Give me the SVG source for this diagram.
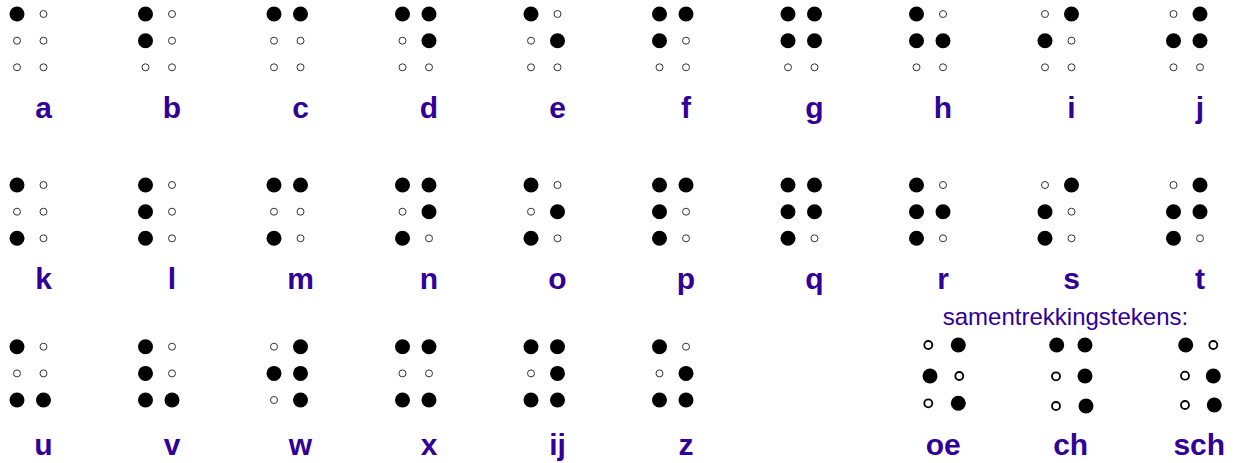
<svg xmlns="http://www.w3.org/2000/svg" xmlns:xlink="http://www.w3.org/1999/xlink" width="1235" height="463" viewBox="0 0 1235 463">
<style>
.lbl{font-family:"Liberation Sans",Arial,sans-serif;font-weight:bold;font-size:30px;fill:#300099;text-anchor:middle}
.ttl{font-family:"Liberation Sans",Arial,sans-serif;font-size:24px;fill:#300099;text-anchor:middle}
</style>
<defs>
<circle id="B" r="7.5" fill="#000"/>
<circle id="W" r="3.5" fill="#fff" stroke="#333" stroke-width="1"/>
<circle id="W2" r="4" fill="#fff" stroke="#000" stroke-width="1.8"/>
</defs>
<rect width="1235" height="463" fill="#fff"/>
<g id="row1">
<g id="cell-a" transform="translate(17,14)"><use href="#B" x="0" y="0"/><use href="#W" x="0" y="26.7"/><use href="#W" x="0" y="53.3"/><use href="#W" x="26.5" y="0"/><use href="#W" x="26.5" y="26.7"/><use href="#W" x="26.5" y="53.3"/><text class="lbl" x="26.5" y="104">a</text></g>
<g id="cell-b" transform="translate(145.5,14)"><use href="#B" x="0" y="0"/><use href="#B" x="0" y="26.7"/><use href="#W" x="0" y="53.3"/><use href="#W" x="26.5" y="0"/><use href="#W" x="26.5" y="26.7"/><use href="#W" x="26.5" y="53.3"/><text class="lbl" x="26.5" y="104">b</text></g>
<g id="cell-c" transform="translate(274,14)"><use href="#B" x="0" y="0"/><use href="#W" x="0" y="26.7"/><use href="#W" x="0" y="53.3"/><use href="#B" x="26.5" y="0"/><use href="#W" x="26.5" y="26.7"/><use href="#W" x="26.5" y="53.3"/><text class="lbl" x="26.5" y="104">c</text></g>
<g id="cell-d" transform="translate(402.5,14)"><use href="#B" x="0" y="0"/><use href="#W" x="0" y="26.7"/><use href="#W" x="0" y="53.3"/><use href="#B" x="26.5" y="0"/><use href="#B" x="26.5" y="26.7"/><use href="#W" x="26.5" y="53.3"/><text class="lbl" x="26.5" y="104">d</text></g>
<g id="cell-e" transform="translate(531,14)"><use href="#B" x="0" y="0"/><use href="#W" x="0" y="26.7"/><use href="#W" x="0" y="53.3"/><use href="#W" x="26.5" y="0"/><use href="#B" x="26.5" y="26.7"/><use href="#W" x="26.5" y="53.3"/><text class="lbl" x="26.5" y="104">e</text></g>
<g id="cell-f" transform="translate(659.5,14)"><use href="#B" x="0" y="0"/><use href="#B" x="0" y="26.7"/><use href="#W" x="0" y="53.3"/><use href="#B" x="26.5" y="0"/><use href="#W" x="26.5" y="26.7"/><use href="#W" x="26.5" y="53.3"/><text class="lbl" x="26.5" y="104">f</text></g>
<g id="cell-g" transform="translate(788,14)"><use href="#B" x="0" y="0"/><use href="#B" x="0" y="26.7"/><use href="#W" x="0" y="53.3"/><use href="#B" x="26.5" y="0"/><use href="#B" x="26.5" y="26.7"/><use href="#W" x="26.5" y="53.3"/><text class="lbl" x="26.5" y="104">g</text></g>
<g id="cell-h" transform="translate(916.5,14)"><use href="#B" x="0" y="0"/><use href="#B" x="0" y="26.7"/><use href="#W" x="0" y="53.3"/><use href="#W" x="26.5" y="0"/><use href="#B" x="26.5" y="26.7"/><use href="#W" x="26.5" y="53.3"/><text class="lbl" x="26.5" y="104">h</text></g>
<g id="cell-i" transform="translate(1045,14)"><use href="#W" x="0" y="0"/><use href="#B" x="0" y="26.7"/><use href="#W" x="0" y="53.3"/><use href="#B" x="26.5" y="0"/><use href="#W" x="26.5" y="26.7"/><use href="#W" x="26.5" y="53.3"/><text class="lbl" x="26.5" y="104">i</text></g>
<g id="cell-j" transform="translate(1173.5,14)"><use href="#W" x="0" y="0"/><use href="#B" x="0" y="26.7"/><use href="#W" x="0" y="53.3"/><use href="#B" x="26.5" y="0"/><use href="#B" x="26.5" y="26.7"/><use href="#W" x="26.5" y="53.3"/><text class="lbl" x="26.5" y="104">j</text></g>
</g>
<g id="row2">
<g id="cell-k" transform="translate(17,185)"><use href="#B" x="0" y="0"/><use href="#W" x="0" y="26.7"/><use href="#B" x="0" y="53.3"/><use href="#W" x="26.5" y="0"/><use href="#W" x="26.5" y="26.7"/><use href="#W" x="26.5" y="53.3"/><text class="lbl" x="26.5" y="104">k</text></g>
<g id="cell-l" transform="translate(145.5,185)"><use href="#B" x="0" y="0"/><use href="#B" x="0" y="26.7"/><use href="#B" x="0" y="53.3"/><use href="#W" x="26.5" y="0"/><use href="#W" x="26.5" y="26.7"/><use href="#W" x="26.5" y="53.3"/><text class="lbl" x="26.5" y="104">l</text></g>
<g id="cell-m" transform="translate(274,185)"><use href="#B" x="0" y="0"/><use href="#W" x="0" y="26.7"/><use href="#B" x="0" y="53.3"/><use href="#B" x="26.5" y="0"/><use href="#W" x="26.5" y="26.7"/><use href="#W" x="26.5" y="53.3"/><text class="lbl" x="26.5" y="104">m</text></g>
<g id="cell-n" transform="translate(402.5,185)"><use href="#B" x="0" y="0"/><use href="#W" x="0" y="26.7"/><use href="#B" x="0" y="53.3"/><use href="#B" x="26.5" y="0"/><use href="#B" x="26.5" y="26.7"/><use href="#W" x="26.5" y="53.3"/><text class="lbl" x="26.5" y="104">n</text></g>
<g id="cell-o" transform="translate(531,185)"><use href="#B" x="0" y="0"/><use href="#W" x="0" y="26.7"/><use href="#B" x="0" y="53.3"/><use href="#W" x="26.5" y="0"/><use href="#B" x="26.5" y="26.7"/><use href="#W" x="26.5" y="53.3"/><text class="lbl" x="26.5" y="104">o</text></g>
<g id="cell-p" transform="translate(659.5,185)"><use href="#B" x="0" y="0"/><use href="#B" x="0" y="26.7"/><use href="#B" x="0" y="53.3"/><use href="#B" x="26.5" y="0"/><use href="#W" x="26.5" y="26.7"/><use href="#W" x="26.5" y="53.3"/><text class="lbl" x="26.5" y="104">p</text></g>
<g id="cell-q" transform="translate(788,185)"><use href="#B" x="0" y="0"/><use href="#B" x="0" y="26.7"/><use href="#B" x="0" y="53.3"/><use href="#B" x="26.5" y="0"/><use href="#B" x="26.5" y="26.7"/><use href="#W" x="26.5" y="53.3"/><text class="lbl" x="26.5" y="104">q</text></g>
<g id="cell-r" transform="translate(916.5,185)"><use href="#B" x="0" y="0"/><use href="#B" x="0" y="26.7"/><use href="#B" x="0" y="53.3"/><use href="#W" x="26.5" y="0"/><use href="#B" x="26.5" y="26.7"/><use href="#W" x="26.5" y="53.3"/><text class="lbl" x="26.5" y="104">r</text></g>
<g id="cell-s" transform="translate(1045,185)"><use href="#W" x="0" y="0"/><use href="#B" x="0" y="26.7"/><use href="#B" x="0" y="53.3"/><use href="#B" x="26.5" y="0"/><use href="#W" x="26.5" y="26.7"/><use href="#W" x="26.5" y="53.3"/><text class="lbl" x="26.5" y="104">s</text></g>
<g id="cell-t" transform="translate(1173.5,185)"><use href="#W" x="0" y="0"/><use href="#B" x="0" y="26.7"/><use href="#B" x="0" y="53.3"/><use href="#B" x="26.5" y="0"/><use href="#B" x="26.5" y="26.7"/><use href="#W" x="26.5" y="53.3"/><text class="lbl" x="26.5" y="104">t</text></g>
</g>
<g id="row3">
<g id="cell-u" transform="translate(17,346.7)"><use href="#B" x="0" y="0"/><use href="#W" x="0" y="26.7"/><use href="#B" x="0" y="53.3"/><use href="#W" x="26.5" y="0"/><use href="#W" x="26.5" y="26.7"/><use href="#B" x="26.5" y="53.3"/><text class="lbl" x="26.5" y="108.3">u</text></g>
<g id="cell-v" transform="translate(145.5,346.7)"><use href="#B" x="0" y="0"/><use href="#B" x="0" y="26.7"/><use href="#B" x="0" y="53.3"/><use href="#W" x="26.5" y="0"/><use href="#W" x="26.5" y="26.7"/><use href="#B" x="26.5" y="53.3"/><text class="lbl" x="26.5" y="108.3">v</text></g>
<g id="cell-w" transform="translate(274,346.7)"><use href="#W" x="0" y="0"/><use href="#B" x="0" y="26.7"/><use href="#W" x="0" y="53.3"/><use href="#B" x="26.5" y="0"/><use href="#B" x="26.5" y="26.7"/><use href="#B" x="26.5" y="53.3"/><text class="lbl" x="26.5" y="108.3">w</text></g>
<g id="cell-x" transform="translate(402.5,346.7)"><use href="#B" x="0" y="0"/><use href="#W" x="0" y="26.7"/><use href="#B" x="0" y="53.3"/><use href="#B" x="26.5" y="0"/><use href="#W" x="26.5" y="26.7"/><use href="#B" x="26.5" y="53.3"/><text class="lbl" x="26.5" y="108.3">x</text></g>
<g id="cell-ij" transform="translate(531,346.7)"><use href="#B" x="0" y="0"/><use href="#W" x="0" y="26.7"/><use href="#B" x="0" y="53.3"/><use href="#B" x="26.5" y="0"/><use href="#B" x="26.5" y="26.7"/><use href="#B" x="26.5" y="53.3"/><text class="lbl" x="26.5" y="108.3">ij</text></g>
<g id="cell-z" transform="translate(659.5,346.7)"><use href="#B" x="0" y="0"/><use href="#W" x="0" y="26.7"/><use href="#B" x="0" y="53.3"/><use href="#W" x="26.5" y="0"/><use href="#B" x="26.5" y="26.7"/><use href="#B" x="26.5" y="53.3"/><text class="lbl" x="26.5" y="108.3">z</text></g>
</g>
<g id="contractions">
<text class="ttl" x="1065.5" y="325">samentrekkingstekens:</text>
<g id="cell-oe"><use href="#W2" x="928.3" y="345"/><use href="#B" x="958.3" y="345"/><use href="#B" x="930" y="376"/><use href="#W2" x="959.3" y="376"/><use href="#W2" x="928.3" y="403.3"/><use href="#B" x="958.3" y="403.3"/><text class="lbl" x="943.3" y="455">oe</text></g>
<g id="cell-ch"><use href="#B" x="1056.7" y="345"/><use href="#B" x="1085" y="345"/><use href="#W2" x="1056" y="376.3"/><use href="#B" x="1085" y="376"/><use href="#W2" x="1056" y="406"/><use href="#B" x="1086" y="406"/><text class="lbl" x="1070.7" y="455">ch</text></g>
<g id="cell-sch"><use href="#B" x="1185.7" y="345"/><use href="#W2" x="1213.3" y="345"/><use href="#W2" x="1185" y="375.7"/><use href="#B" x="1213.3" y="376"/><use href="#W2" x="1185" y="405"/><use href="#B" x="1214.3" y="405"/><text class="lbl" x="1199.3" y="455">sch</text></g>
</g>
<g id="connectors"/>
</svg>
